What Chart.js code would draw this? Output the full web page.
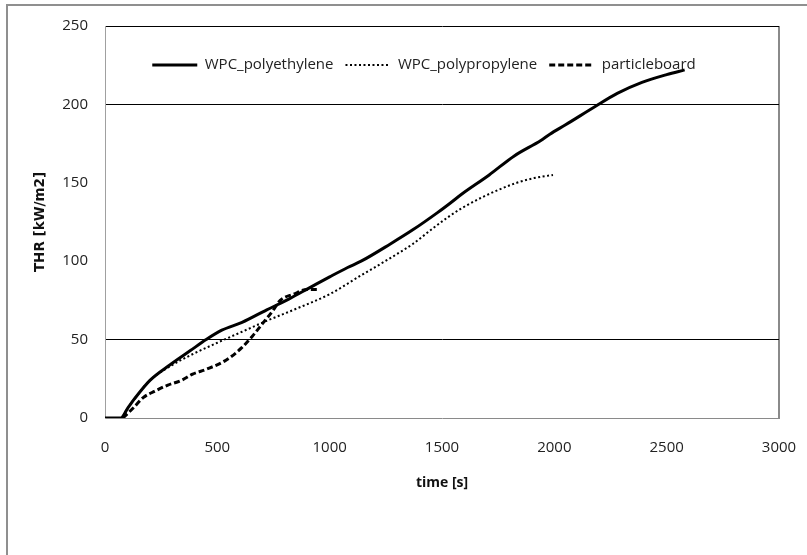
<!DOCTYPE html>
<html>
<head>
<meta charset="utf-8">
<title>THR</title>
<script src="https://cdn.jsdelivr.net/npm/chart.js@4.4.1/dist/chart.umd.min.js"></script>
<style>
    body { margin: 0; background: #fff; }
    #wrap { position: relative; width: 807px; height: 555px; }
    #moldura { position: absolute; left: 6px; top: 4px; right: 0; bottom: 0; border-top: 2px solid #8f8f8f; border-left: 2px solid #8f8f8f; }
    #grafico { position: absolute; left: 0; top: 0; }
</style>
</head>
<body>
<div id="wrap">
    <div id="moldura"></div>
    <canvas id="grafico" width="807" height="555"></canvas>
</div>
<script>
// --- DADOS ---
const tempoPE = [0, 70, 100, 130, 200, 290, 380, 450, 520, 610, 720, 820, 910, 1000, 1080, 1140, 1270, 1370, 1480, 1536, 1590, 1710, 1820, 1940, 1980, 2050, 2180, 2280, 2390, 2500, 2580];
const thrPE   = [0, 0, 6, 12, 24, 34, 43, 50, 56, 61, 69, 76, 83, 90, 96, 100, 111, 120, 131, 137, 143, 155, 167, 177, 181, 187, 198.5, 207, 214, 219, 222];

const tempoPP = [0, 70, 100, 130, 200, 290, 380, 500, 610, 720, 840, 1000, 1140, 1270, 1370, 1460, 1536, 1590, 1682, 1760, 1833, 1910, 1994];
const thrPP   = [0, 0, 6, 12, 24, 33, 40, 48, 55, 62, 69, 79, 91, 102, 111, 121, 129, 134, 141, 146, 150, 153, 155];

const tempoPB = [80, 130, 170, 220, 280, 340, 390, 450, 540, 610, 655, 700, 745, 780, 840, 900, 950];
const thrPB   = [0, 7, 13, 17, 21, 24, 28, 31, 37, 45, 52, 60, 68, 75, 79, 82, 82];

const nomesSeries = ['WPC_polyethylene', 'WPC_polypropylene', 'particleboard'];
const ticksX = [0, 500, 1000, 1500, 2000, 2500, 3000];
const ticksY = [0, 50, 100, 150, 200, 250];
// linhas de grade que aparecem no original (100 e 150 não aparecem)
const gradeVisivel = [50, 200, 250];

const pares = (xs, ys) => xs.map((x, i) => ({ x: x, y: ys[i] }));

const fonteTick = { family: "'Open Sans', 'Liberation Sans', sans-serif", size: 15 };

// a legenda fica dentro da área do gráfico: depois do layout, desce e desloca a caixa
const moverLegenda = {
    id: 'moverLegenda',
    afterLayout(chart) {
        const lg = chart.legend;
        if (!lg) return;
        const h = lg.bottom - lg.top;
        lg.top = 45.5;
        lg.bottom = lg.top + h;
        lg.left -= 18;
        lg.right -= 18;
    }
};

new Chart(document.getElementById('grafico').getContext('2d'), {
    type: 'line',
    data: {
        datasets: [
            { label: nomesSeries[0], data: pares(tempoPE, thrPE), borderColor: '#000', borderWidth: 3, pointRadius: 0, cubicInterpolationMode: 'monotone' },
            { label: nomesSeries[1], data: pares(tempoPP, thrPP), borderColor: '#000', borderWidth: 2, borderDash: [2, 2.5], pointRadius: 0, cubicInterpolationMode: 'monotone' },
            { label: nomesSeries[2], data: pares(tempoPB, thrPB), borderColor: '#000', borderWidth: 3, borderDash: [6, 3], pointRadius: 0, cubicInterpolationMode: 'monotone' }
        ]
    },
    options: {
        responsive: false,
        animation: false,
        layout: { padding: { top: -11, right: 28, bottom: 64, left: 0 } },
        plugins: {
            tooltip: { enabled: false },
            legend: {
                position: 'top',
                align: 'center',
                fullSize: false,
                labels: {
                    usePointStyle: true,
                    pointStyleWidth: 45,
                    padding: 12,
                    color: '#222',
                    font: fonteTick,
                    generateLabels: chart => chart.data.datasets.map((ds, i) => ({
                        text: ds.label,
                        fillStyle: 'rgba(0,0,0,0)',
                        strokeStyle: ds.borderColor,
                        lineWidth: ds.borderWidth,
                        lineDash: ds.borderDash || [],
                        lineCap: 'butt',
                        pointStyle: 'line',
                        fontColor: '#222',
                        hidden: false,
                        datasetIndex: i
                    }))
                }
            }
        },
        scales: {
            x: {
                type: 'linear',
                min: 0,
                max: 3000,
                afterBuildTicks: s => { s.ticks = ticksX.map(v => ({ value: v })); },
                afterFit: s => { s.height = 73; s.paddingRight = 0; s.paddingLeft = 0; },
                ticks: { color: '#222', font: fonteTick, padding: 21, maxRotation: 0, callback: v => String(v) },
                grid: {
                    drawTicks: false,
                    color: c => c.tick && c.tick.value === 3000 ? '#8a8a8a' : 'rgba(0,0,0,0)',
                    lineWidth: c => c.tick && c.tick.value === 3000 ? 2 : 1
                },
                border: { display: true, color: '#8a8a8a', width: 1 },
                title: {
                    display: true,
                    text: 'time [s]',
                    color: '#111',
                    font: { family: "'Open Sans', sans-serif", size: 14, weight: 'bold' },
                    padding: { top: 0, bottom: 0 }
                }
            },
            y: {
                type: 'linear',
                min: 0,
                max: 250,
                afterBuildTicks: s => { s.ticks = ticksY.map(v => ({ value: v })); },
                afterFit: s => { s.width = 105; s.paddingTop = 0; s.paddingBottom = 0; },
                ticks: { color: '#222', font: fonteTick, padding: 17, callback: v => String(v) },
                grid: {
                    drawTicks: false,
                    color: c => c.tick && gradeVisivel.includes(c.tick.value) ? '#000' : 'rgba(0,0,0,0)',
                    lineWidth: 1
                },
                border: { display: true, color: '#a0a0a0', width: 1 },
                title: {
                    display: true,
                    text: 'THR [kW/m2]',
                    color: '#111',
                    font: { family: "'DejaVu Sans', sans-serif", size: 13.5, weight: 'bold' },
                    padding: { top: 32, bottom: 0 }
                }
            }
        }
    },
    plugins: [moverLegenda]
});
</script>
</body>
</html>
